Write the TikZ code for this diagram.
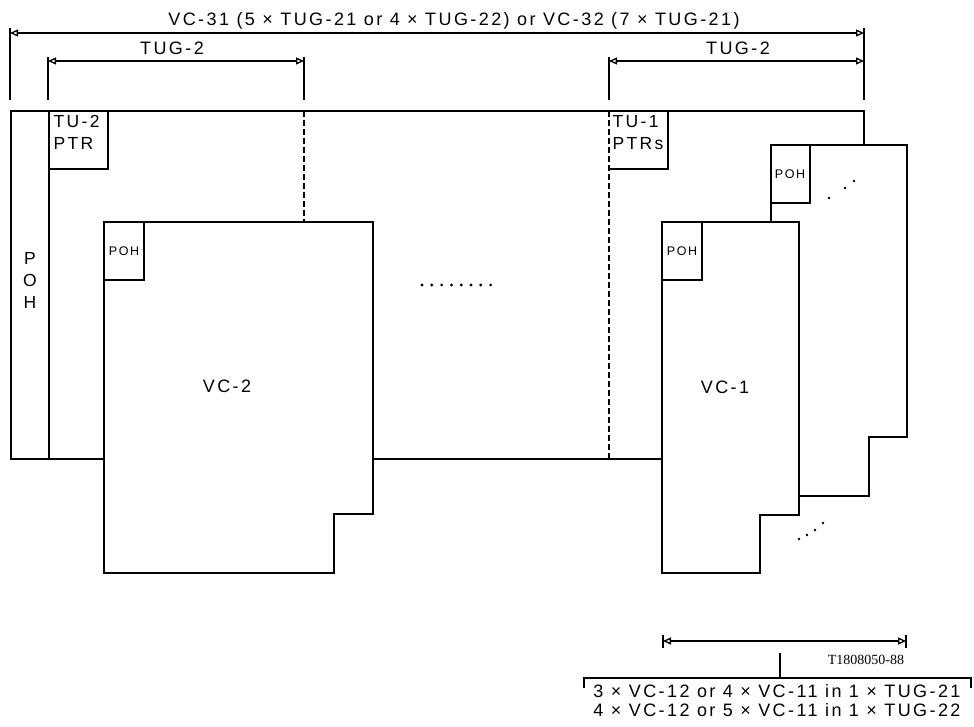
\documentclass[tikz,border=0pt]{standalone}
\usepackage{fontspec}
\setmainfont{Liberation Sans}[LetterSpace=13.5]
\newfontfamily\codefont{Liberation Serif}
\usetikzlibrary{arrows.meta,positioning}

\begin{document}
\begin{tikzpicture}[x=1pt, y=-1pt, line width=1.3pt,
  every node/.style={inner sep=0pt, font=\fontsize{18}{20}\selectfont},
  small/.style={font=\fontsize{12.5}{14}\selectfont},
  dim/.style={{Triangle[open,length=8pt,width=7pt]}-{Triangle[open,length=8pt,width=7pt]}},
  dashline/.style={dash pattern=on 6pt off 3pt}]
\useasboundingbox (0,0) rectangle (974,727);
% dimension lines on top
\coordinate (vcL) at (10,33); \coordinate (vcR) at (864,33);
\coordinate (tgL) at (48,61); \coordinate (tgR) at (304,61);
\coordinate (tg2L) at (609,61); \coordinate (tg2R) at (864,61);
\draw[dim] (vcL) -- (vcR);
\draw[dim] (tgL) -- (tgR);
\draw[dim] (tg2L) -- (tg2R);
\node[anchor=base] (vclabel) at (454,26) {VC-31 (5 × TUG-21 or 4 × TUG-22) or VC-32 (7 × TUG-21)};
\node[anchor=base] (tglabel) at (172,55) {TUG-2};
\node[anchor=base] (tg2label) at (738,55) {TUG-2};
\draw (10,28) -- (10,100) (864,28) -- (864,100);
\draw (48,57) -- (48,100) (304,57) -- (304,100) (609,57) -- (609,100);
% frame of the VC-3
\draw (104,459) -- (11,459) -- (11,111) -- (864,111) -- (864,145);
\draw (373,459) -- (662,459);
\draw (49,111) -- (49,459);
\node[align=center, font=\fontsize{17.5}{22}\selectfont] (poh) at (30,280) {P\\O\\H};
\draw (49,169) -| (108,111);
\node[align=left, anchor=north west, font=\fontsize{17.5}{22}\selectfont] (tu2) at (53,115) {TU-2\\PTR};
\draw[dashline] (304,111) -- (304,222);
\draw[dashline] (609,111) -- (609,459);
\draw (609,169) -| (668,111);
\node[align=left, anchor=north west, font=\fontsize{17.5}{22}\selectfont] (tu1) at (612,115) {TU-1\\PTRs};
% VC-2
\draw (104,222) -- (373,222) -- (373,514) -- (334,514) -- (334,573) -- (104,573) -- cycle;
\draw (104,280) -| (144,222);
\node[small] (poh2) at (124,251) {POH};
\node (vc2) at (227,386) {VC-2};
\foreach \i in {0,...,7} \fill (422+\i*9.8,285) circle (1.6pt);
% VC-1 (back and front)
\draw (771,222) -- (771,145) -- (907,145) -- (907,437) -- (869,437) -- (869,496) -- (799,496);
\draw (771,203) -| (810,145);
\node[small] (poh1b) at (790,174) {POH};
\foreach \p in {(829,198),(845,188),(854,181)} \fill \p circle (1.4pt);
\draw (662,222) -- (799,222) -- (799,515) -- (760,515) -- (760,573) -- (662,573) -- cycle;
\draw (662,280) -| (702,222);
\node[small] (poh1) at (682,251) {POH};
\node (vc1) at (725,387) {VC-1};
\foreach \p in {(799,539),(807,535),(815,530),(823,523)} \fill \p circle (1.3pt);
% dimension below
\coordinate (bL) at (663,641); \coordinate (bR) at (906,641);
\draw[dim] (bL) -- (bR);
\draw (663,635) -- (663,648) (906,635) -- (906,648);
\node[font=\codefont\fontsize{14}{15}\selectfont] (ref) at (866,660) {T1808050-88};
\coordinate (stem) at (780,653);
\draw (stem) -- (780,678);
\draw (584,688) -- (584,678) -- (971,678) -- (971,688);
\node[anchor=base] (line1) at (777,697) {3 × VC-12 or 4 × VC-11 in 1 × TUG-21};
\node[anchor=base] (line2) at (777,716) {4 × VC-12 or 5 × VC-11 in 1 × TUG-22};
\end{tikzpicture}
\end{document}
